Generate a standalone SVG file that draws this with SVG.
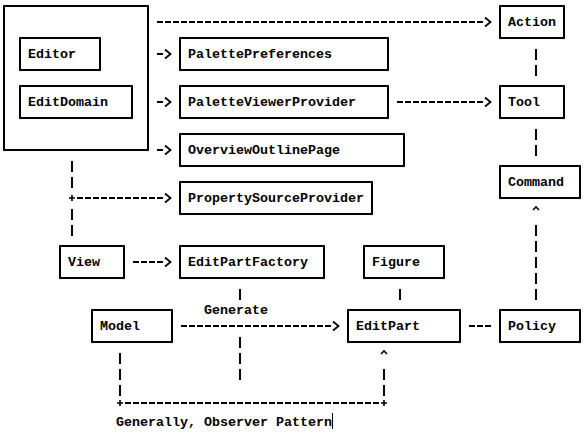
<svg xmlns="http://www.w3.org/2000/svg" width="586" height="434" viewBox="0 0 586 434">
<defs>
<style>
.box{fill:#fff;stroke:#000;stroke-width:2}
.lbl{font-family:"Liberation Mono","DejaVu Sans Mono",monospace;font-size:13.333px;font-weight:bold;fill:#000}
.dh{stroke:#000;stroke-width:2;stroke-dasharray:6 2;fill:none}
.dv{stroke:#000;stroke-width:2;stroke-dasharray:11 5;fill:none}
.tick{stroke:#000;stroke-width:1.6;fill:none}
.cursor{stroke:#000;stroke-width:1;fill:none}
</style>
<marker id="chev" markerUnits="userSpaceOnUse" viewBox="0 -6 10 12" refX="0" refY="0" markerWidth="10" markerHeight="12" orient="auto" overflow="visible">
<path d="M2,-4.5 L7.5,0 L2,4.5" fill="none" stroke="#000" stroke-width="1.8"/>
</marker>
</defs>
<rect width="586" height="434" fill="#fff"/>

<g id="connectors">
<line class="dh" x1="157" y1="22" x2="483" y2="22" marker-end="url(#chev)"/>
<line class="dh" x1="157" y1="54" x2="163" y2="54" marker-end="url(#chev)"/>
<line class="dh" x1="157" y1="102" x2="163" y2="102" marker-end="url(#chev)"/>
<line class="dh" x1="157" y1="150" x2="163" y2="150" marker-end="url(#chev)"/>
<line class="dh" x1="397" y1="102" x2="483" y2="102" marker-end="url(#chev)"/>
<line class="dv" x1="536" y1="49" x2="536" y2="76"/>
<line class="dv" x1="536" y1="129" x2="536" y2="156"/>
<line class="dv" x1="536" y1="225" x2="536" y2="300"/>
<path class="tick" d="M533,210 L536,207 L539,210"/>
<line class="dv" x1="72" y1="161" x2="72" y2="188"/>
<line class="dv" x1="72" y1="209" x2="72" y2="236"/>
<path class="tick" d="M69,198 H75 M72,195 V201"/>
<line class="dh" x1="77" y1="198" x2="163" y2="198" marker-end="url(#chev)"/>
<line class="dh" x1="133" y1="262" x2="163" y2="262" marker-end="url(#chev)"/>
<line class="dv" x1="240" y1="289" x2="240" y2="300"/>
<line class="dv" x1="240" y1="337" x2="240" y2="380"/>
<line class="dv" x1="400" y1="289" x2="400" y2="300"/>
<line class="dh" x1="181" y1="326" x2="331" y2="326" marker-end="url(#chev)"/>
<line class="dh" x1="469" y1="326" x2="491" y2="326"/>
<line class="dv" x1="120" y1="353" x2="120" y2="396"/>
<path class="tick" d="M117,403 H123 M120,400 V406"/>
<line class="dh" x1="125" y1="403" x2="379" y2="403"/>
<path class="tick" d="M381,403 H387 M384,400 V406"/>
<line class="dv" x1="384" y1="369" x2="384" y2="396"/>
<path class="tick" d="M381,354 L384,351 L387,354"/>
</g>

<g id="editor-container">
<rect class="box" x="4" y="6" width="144" height="144"/>
<g id="editor"><rect class="box" x="20" y="38" width="80" height="32"/><text class="lbl" x="28" y="58">Editor</text></g>
<g id="editdomain"><rect class="box" x="20" y="86" width="112" height="32"/><text class="lbl" x="28" y="106">EditDomain</text></g>
</g>
<g id="action"><rect class="box" x="500" y="6" width="64" height="32"/><text class="lbl" x="508" y="26">Action</text></g>
<g id="palettepreferences"><rect class="box" x="180" y="38" width="208" height="32"/><text class="lbl" x="188" y="58">PalettePreferences</text></g>
<g id="paletteviewerprovider"><rect class="box" x="180" y="86" width="208" height="32"/><text class="lbl" x="188" y="106">PaletteViewerProvider</text></g>
<g id="overviewoutlinepage"><rect class="box" x="180" y="134" width="224" height="32"/><text class="lbl" x="188" y="154">OverviewOutlinePage</text></g>
<g id="propertysourceprovider"><rect class="box" x="180" y="182" width="192" height="32"/><text class="lbl" x="188" y="202">PropertySourceProvider</text></g>
<g id="tool"><rect class="box" x="500" y="86" width="64" height="32"/><text class="lbl" x="508" y="106">Tool</text></g>
<g id="command"><rect class="box" x="500" y="166" width="80" height="32"/><text class="lbl" x="508" y="186">Command</text></g>
<g id="view"><rect class="box" x="60" y="246" width="64" height="32"/><text class="lbl" x="68" y="266">View</text></g>
<g id="editpartfactory"><rect class="box" x="180" y="246" width="144" height="32"/><text class="lbl" x="188" y="266">EditPartFactory</text></g>
<g id="figure"><rect class="box" x="364" y="246" width="80" height="32"/><text class="lbl" x="372" y="266">Figure</text></g>
<g id="model"><rect class="box" x="92" y="310" width="80" height="32"/><text class="lbl" x="100" y="330">Model</text></g>
<g id="editpart"><rect class="box" x="348" y="310" width="112" height="32"/><text class="lbl" x="356" y="330">EditPart</text></g>
<g id="policy"><rect class="box" x="500" y="310" width="80" height="32"/><text class="lbl" x="508" y="330">Policy</text></g>

<g id="labels">
<text class="lbl" x="204" y="314">Generate</text>
<text class="lbl" x="116" y="426">Generally, Observer Pattern</text>
<line class="cursor" x1="332.5" y1="413" x2="332.5" y2="429"/>
</g>
</svg>
